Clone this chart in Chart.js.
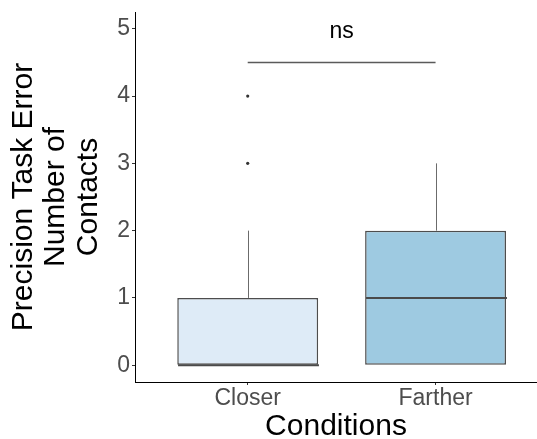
<!DOCTYPE html>
<html>
<head>
<meta charset="utf-8">
<script src="https://cdn.jsdelivr.net/npm/chart.js@4"></script>
<style>
  html, body { margin: 0; padding: 0; background: #fff; }
  #wrap { width: 537px; height: 439px; }
</style>
</head>
<body>
<div id="wrap"><canvas id="chart" width="537" height="439"></canvas></div>
<script>
// datos
const categories = ["Closer", "Farther"];
const positions = [1, 2];
const q1 = [0, 0];
const medians = [0, 1];
const q3 = [1, 2];
const whiskerLow = [0, 0];
const whiskerHigh = [2, 3];
const outliersX = [1, 1];
const outliersY = [3, 4];
const boxColors = ["#deebf7", "#9ecae1"];
const yTicks = [0, 1, 2, 3, 4, 5];

// comparación
const sigFrom = 1;
const sigTo = 2;
const sigY = 4.5;
const sigLabel = "ns";

const FONT = "'Liberation Sans', Arial, sans-serif";

// plugin: bigotes, medianas y corchete
const boxExtras = {
    id: "boxExtras",
    afterDatasetsDraw(chart) {
        const { ctx, scales: { x, y } } = chart;
        const half = 0.75 * (x.getPixelForValue(2) - x.getPixelForValue(1)) / 2;

        ctx.save();

        positions.forEach((p, i) => {
            const cx = Math.round(x.getPixelForValue(p)) + 0.5;

            // bigotes
            ctx.strokeStyle = "#6b6b6b";
            ctx.lineWidth = 1;
            if (whiskerHigh[i] > q3[i]) {
                ctx.beginPath();
                ctx.moveTo(cx, y.getPixelForValue(q3[i]));
                ctx.lineTo(cx, y.getPixelForValue(whiskerHigh[i]));
                ctx.stroke();
            }
            if (whiskerLow[i] < q1[i]) {
                ctx.beginPath();
                ctx.moveTo(cx, y.getPixelForValue(q1[i]));
                ctx.lineTo(cx, y.getPixelForValue(whiskerLow[i]));
                ctx.stroke();
            }

            // mediana
            const my = y.getPixelForValue(medians[i]);
            ctx.strokeStyle = "#4a4a4a";
            ctx.lineWidth = 2;
            ctx.beginPath();
            ctx.moveTo(cx - half, my);
            ctx.lineTo(cx + half, my);
            ctx.stroke();
        });

        // corchete de significancia
        const sy = y.getPixelForValue(sigY);
        const x1 = x.getPixelForValue(sigFrom);
        const x2 = x.getPixelForValue(sigTo);
        ctx.strokeStyle = "#5a5a5a";
        ctx.lineWidth = 1.5;
        ctx.beginPath();
        ctx.moveTo(x1, sy);
        ctx.lineTo(x2, sy);
        ctx.stroke();

        ctx.fillStyle = "#000";
        ctx.font = "23px " + FONT;
        ctx.textAlign = "center";
        ctx.textBaseline = "alphabetic";
        ctx.fillText(sigLabel, (x1 + x2) / 2, sy - 24);

        ctx.restore();
    }
};

new Chart(document.getElementById("chart"), {
    data: {
        datasets: [
            // CAJAS
            {
                type: "bar",
                data: positions.map((p, i) => ({ x: p, y: [q1[i], q3[i]] })),
                backgroundColor: boxColors,
                borderColor: "#4d4d4d",
                borderWidth: 1.5,
                borderSkipped: false,
                barPercentage: 1,
                categoryPercentage: 0.75
            },
            // ATÍPICOS
            {
                type: "scatter",
                data: outliersX.map((v, i) => ({ x: v, y: outliersY[i] })),
                pointRadius: 1.6,
                pointBackgroundColor: "#333",
                pointBorderWidth: 0
            }
        ]
    },
    options: {
        responsive: false,
        animation: false,
        layout: { autoPadding: false, padding: { top: 12, right: 0, left: 0, bottom: 0 } },
        plugins: {
            legend: { display: false },
            tooltip: { enabled: false }
        },
        scales: {
            x: {
                type: "linear",
                offset: false,
                min: 0.4,
                max: 2.54,
                afterBuildTicks: s => { s.ticks = positions.map(v => ({ value: v })); },
                afterFit: s => { s.height = 57; s.paddingLeft = 0; s.paddingRight = 0; },
                ticks: {
                    callback: v => categories[positions.indexOf(v)],
                    color: "#4d4d4d",
                    font: { family: FONT, size: 23 },
                    padding: 0,
                    maxRotation: 0
                },
                grid: { offset: false, drawOnChartArea: false, drawTicks: true, tickLength: 3, color: "#333" },
                border: { display: true, color: "#000", width: 1 },
                title: {
                    display: true,
                    text: "Conditions",
                    color: "#000",
                    font: { family: FONT, size: 30, lineHeight: 0.8 },
                    padding: 0
                }
            },
            y: {
                min: -0.25,
                max: 5.25,
                afterBuildTicks: s => { s.ticks = yTicks.map(v => ({ value: v })); },
                afterFit: s => { s.width = 135; s.paddingTop = 0; s.paddingBottom = 0; },
                ticks: {
                    color: "#4d4d4d",
                    font: { family: FONT, size: 23 },
                    padding: 2
                },
                grid: { drawOnChartArea: false, drawTicks: true, tickLength: 3, color: "#333" },
                border: { display: true, color: "#000", width: 1 },
                title: {
                    display: true,
                    text: ["Precision Task Error", "Number of", "Contacts"],
                    color: "#000",
                    font: { family: FONT, size: 30, lineHeight: 1.07 },
                    padding: { top: 8, bottom: 0 }
                }
            }
        }
    },
    plugins: [boxExtras]
});
</script>
</body>
</html>
